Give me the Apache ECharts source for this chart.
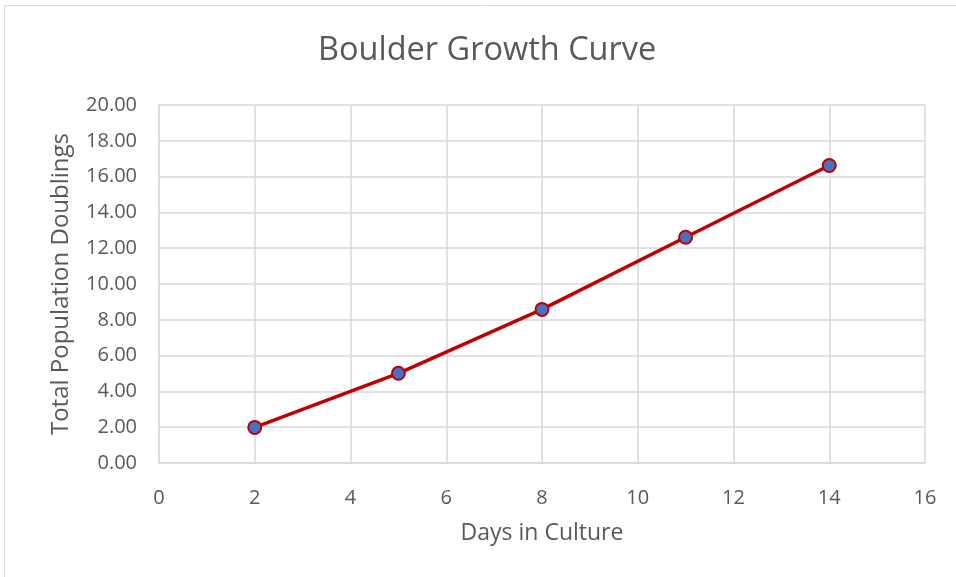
<!DOCTYPE html>
<html>
<head>
<meta charset="utf-8">
<script src="https://cdn.jsdelivr.net/npm/echarts@6/dist/echarts.min.js"></script>
<style>
html,body{margin:0;padding:0;background:#fff;}
#chart{width:956px;height:577px;}
</style>
</head>
<body>
<div id="chart"></div>
<script>
const days = [2, 5, 8, 11, 14];
const doublings = [1.99, 5.01, 8.58, 12.61, 16.62];
const xTicks = [0, 2, 4, 6, 8, 10, 12, 14, 16];
const yTicks = [0, 2, 4, 6, 8, 10, 12, 14, 16, 18, 20];

const FONT = '"Open Sans", "Noto Sans", sans-serif';
const chart = echarts.init(document.getElementById('chart'));
chart.setOption({
  animation: false,
  backgroundColor: '#fff',
  graphic: [{
    type: 'rect',
    shape: {x: 4.5, y: 5.5, width: 1000, height: 1000},
    style: {fill: 'none', stroke: '#d9d9d9', lineWidth: 1},
    silent: true
  }],
  title: {
    text: 'Boulder Growth Curve',
    left: 313,
    top: 29,
    textStyle: {fontFamily: FONT, fontSize: 32.5, fontWeight: 'normal', color: '#595959'}
  },
  grid: {left: 159, top: 105, right: 31, bottom: 114},
  xAxis: {
    type: 'value',
    min: xTicks[0], max: xTicks[xTicks.length - 1], interval: 2,
    name: 'Days in Culture',
    nameLocation: 'middle',
    nameGap: 59,
    nameTextStyle: {fontFamily: FONT, fontSize: 23, color: '#595959'},
    axisLine: {show: true, lineStyle: {color: '#d9d9d9', width: 1.5}},
    axisTick: {show: false},
    axisLabel: {fontFamily: FONT, fontSize: 20, color: '#595959', margin: 25},
    splitLine: {show: true, lineStyle: {color: '#d9d9d9', width: 1.5}}
  },
  yAxis: {
    type: 'value',
    min: yTicks[0], max: yTicks[yTicks.length - 1], interval: 2,
    name: 'Total Population Doublings',
    nameLocation: 'middle',
    nameGap: 86,
    nameTextStyle: {fontFamily: FONT, fontSize: 24, color: '#595959'},
    axisLine: {show: true, lineStyle: {color: '#d9d9d9', width: 1.5}},
    axisTick: {show: false},
    axisLabel: {fontFamily: FONT, fontSize: 20, color: '#595959', margin: 22,
      formatter: v => v.toFixed(2)},
    splitLine: {show: true, lineStyle: {color: '#d9d9d9', width: 1.5}}
  },
  series: [{
    type: 'line',
    data: days.map((d, i) => [d, doublings[i]]),
    symbol: 'circle',
    symbolSize: 13,
    lineStyle: {color: '#C00000', width: 3.5},
    itemStyle: {color: '#4472C4', borderColor: '#C00000', borderWidth: 2}
  }]
});
</script>
</body>
</html>
